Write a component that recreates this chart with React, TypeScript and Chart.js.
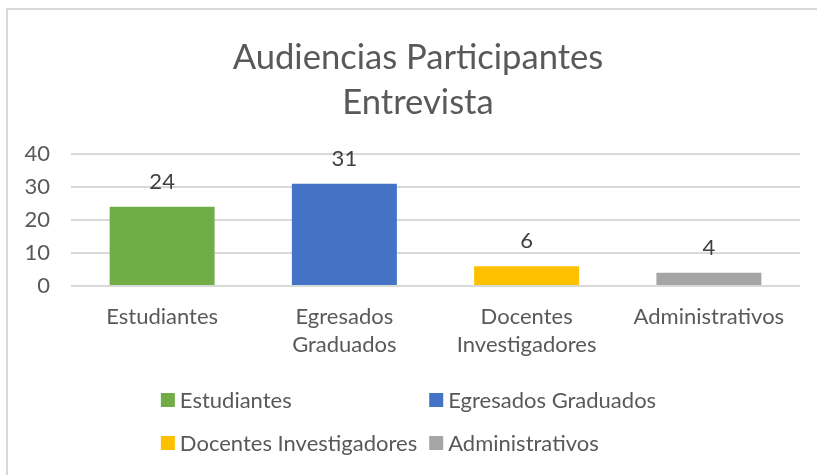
import React, { useEffect, useRef } from 'react';
import { Chart, registerables } from 'chart.js';

Chart.register(...registerables);

const titleLines = ['Audiencias Participantes', 'Entrevista'];
const categoryLines = [['Estudiantes'], ['Egresados', 'Graduados'], ['Docentes', 'Investigadores'], ['Administrativos']];
const legendLabels = ['Estudiantes', 'Egresados Graduados', 'Docentes Investigadores', 'Administrativos'];
const values = [24, 31, 6, 4];
const barColors = ['#70AD47', '#4472C4', '#FFC000', '#A5A5A5'];
const yMin = 0;
const yMax = 40;
const yStep = 10;

const FONT = 'Lato, "Open Sans", sans-serif';
const AXIS_SIZE = 22;
const TEXT_COLOR = '#595959';
const LABEL_COLOR = '#404040';
const GRID_COLOR = '#D9D9D9';
const LEGEND_AREA = 100;

const dataLabelPlugin = {
  id: 'dataLabels',
  afterDatasetsDraw(chart: any) {
    const ctx = chart.ctx;
    const meta = chart.getDatasetMeta(0);
    ctx.save();
    ctx.font = `${AXIS_SIZE}px ${FONT}`;
    ctx.fillStyle = LABEL_COLOR;
    ctx.textAlign = 'center';
    ctx.textBaseline = 'alphabetic';
    meta.data.forEach((el: any, i: number) => {
      ctx.fillText(String(values[i]), el.x, el.y - 18);
    });
    ctx.restore();
  },
};

const titleShiftPlugin = {
  id: 'titleShift',
  afterLayout(chart: any) {
    if (chart.titleBlock) {
      chart.titleBlock.left += 28;
    }
  },
};

const gridLegendPlugin = {
  id: 'gridLegend',
  afterDraw(chart: any) {
    const ctx = chart.ctx;
    ctx.save();
    ctx.font = `${AXIS_SIZE}px ${FONT}`;
    const box = 14;
    const gap = 5;
    const colGap = 12;
    const w = legendLabels.map((t) => ctx.measureText(t).width);
    const col1 = Math.max(w[0], w[2]) + box + gap;
    const col2 = Math.max(w[1], w[3]) + box + gap;
    const total = col1 + colGap + col2;
    const startX = chart.width / 2 - 4 - total / 2;
    const top = chart.height - LEGEND_AREA;
    const rowY = [top + 25, top + 68];
    legendLabels.forEach((label, i) => {
      const row = Math.floor(i / 2);
      const col = i % 2;
      const x = col === 0 ? startX : startX + col1 + colGap;
      const y = rowY[row];
      ctx.fillStyle = barColors[i];
      ctx.fillRect(x, y - box / 2, box, box);
      ctx.fillStyle = TEXT_COLOR;
      ctx.textAlign = 'left';
      ctx.textBaseline = 'middle';
      ctx.fillText(label, x + box + gap, y + 1);
    });
    ctx.restore();
  },
};

export default function App() {
  const ref = useRef<HTMLCanvasElement | null>(null);
  useEffect(() => {
    if (!ref.current) return;
    const chart = new Chart(ref.current, {
      type: 'bar',
      data: {
        labels: categoryLines,
        datasets: [
          {
            data: values,
            backgroundColor: barColors,
            barPercentage: 0.72,
            categoryPercentage: 0.8,
          },
        ],
      },
      options: {
        responsive: false,
        animation: false,
        layout: { padding: { left: 0, right: 17, top: 0, bottom: LEGEND_AREA } },
        plugins: {
          legend: { display: false },
          tooltip: { enabled: false },
          title: {
            display: true,
            text: titleLines,
            color: TEXT_COLOR,
            font: { family: FONT, size: 34.6, weight: 'normal', lineHeight: 1.3 },
            padding: { top: 25, bottom: 29 },
          },
        },
        scales: {
          x: {
            grid: { display: false, drawTicks: false },
            border: { display: false },
            ticks: {
              color: TEXT_COLOR,
              font: { family: FONT, size: AXIS_SIZE, lineHeight: 1.28 },
              padding: 17,
              maxRotation: 0,
              autoSkip: false,
            },
            afterFit(scale: any) {
              scale.height = 89;
            },
          },
          y: {
            min: yMin,
            max: yMax,
            ticks: {
              stepSize: yStep,
              color: TEXT_COLOR,
              font: { family: FONT, size: AXIS_SIZE },
              padding: 21,
            },
            grid: { color: GRID_COLOR, lineWidth: 2, drawTicks: false },
            border: { display: false },
            afterFit(scale: any) {
              scale.width = 63;
            },
          },
        },
      },
      plugins: [dataLabelPlugin, titleShiftPlugin, gridLegendPlugin],
    });
    return () => chart.destroy();
  }, []);

  return (
    <div
      style={{
        position: 'absolute',
        left: 6,
        top: 8,
        width: 830,
        height: 480,
        border: `2px solid ${GRID_COLOR}`,
        boxSizing: 'border-box',
        background: '#fff',
      }}
    >
      <canvas ref={ref} width={809} height={465} style={{ display: 'block', position: 'absolute', left: 0, top: 0 }} />
    </div>
  );
}
